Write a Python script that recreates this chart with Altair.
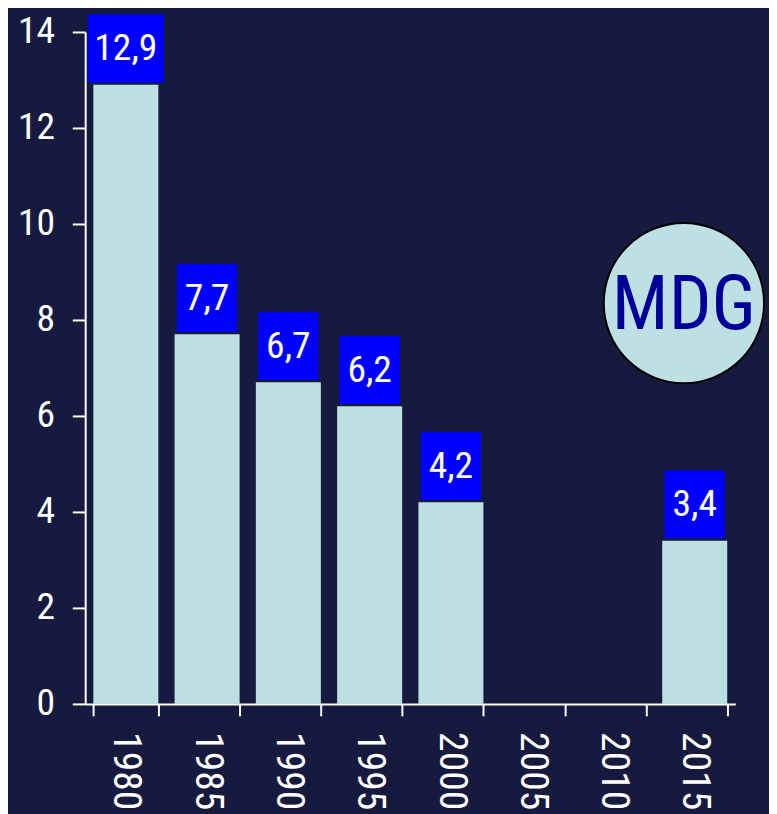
import altair as alt
import pandas as pd

years = ["1980", "1985", "1990", "1995", "2000", "2005", "2010", "2015"]
values = [12.9, 7.7, 6.7, 6.2, 4.2, None, None, 3.4]
labels = ["12,9", "7,7", "6,7", "6,2", "4,2", "", "", "3,4"]
y_ticks = [0, 2, 4, 6, 8, 10, 12, 14]
badge_text = ["MDG"]

FONT = "Roboto Condensed, Roboto, sans-serif"

df = pd.DataFrame({"year": years, "value": values, "label": labels})
df = df.dropna(subset=["value"])

x_scale = alt.Scale(domain=years, paddingInner=0.2, paddingOuter=0.1)
x_enc = alt.X(
    "year:N",
    scale=x_scale,
    axis=alt.Axis(
        title=None, labelAngle=90, labelAlign="left", labelBaseline="middle",
        labelColor="white", labelFont=FONT, labelFontSize=40, labelPadding=16,
        tickSize=12, tickColor="white", tickWidth=2, tickBand="extent",
        domainColor="white", domainWidth=2, grid=False,
    ),
)
y_scale = alt.Scale(domain=[0, 14], nice=False)

base = alt.Chart(df)

bars = base.mark_bar(color="#bcdfe2").encode(
    x=x_enc,
    y=alt.Y(
        "value:Q", scale=y_scale,
        axis=alt.Axis(
            title=None, values=y_ticks, labelColor="white", labelFont=FONT,
            labelFontSize=38, labelPadding=18, tickSize=13, tickColor="white",
            tickWidth=2, domainColor="white", domainWidth=2, grid=False,
        ),
    ),
)

boxes = base.transform_calculate(
    lo="datum.value + 0.05",
    hi="datum.value + 1.47",
    boxw="13 + 16 * length(datum.label)",
).mark_bar(color="#0000ff").encode(
    x=alt.X("year:N", scale=x_scale),
    y=alt.Y("lo:Q", scale=y_scale),
    y2="hi:Q",
    size=alt.Size("boxw:Q", scale=None, legend=None),
)

texts = base.transform_calculate(
    mid="datum.value + 0.76",
).mark_text(
    color="white", font=FONT, fontSize=38, align="center", baseline="middle", dy=1,
).encode(
    x=alt.X("year:N", scale=x_scale),
    y=alt.Y("mid:Q", scale=y_scale),
    text="label:N",
)

badge_df = pd.DataFrame({"t": badge_text})
badge_circle = alt.Chart(badge_df).mark_point(
    shape="circle", filled=True, fill="#bde0e3", stroke="black", strokeWidth=2,
    opacity=1, size=162 * 162,
).encode(x=alt.value(605), y=alt.value(274))

badge_label = alt.Chart(badge_df).mark_text(
    color="#000099", font=FONT, fontSize=76, align="center", baseline="middle", dy=3,
).encode(x=alt.value(605), y=alt.value(274), text="t:N")

chart = alt.layer(bars, boxes, texts, badge_circle, badge_label).properties(
    width=657, height=679,
    autosize=alt.AutoSizeParams(type="none"),
    padding={"left": 78, "top": 20, "right": 34, "bottom": 107},
    background="#161a3e",
).configure_view(stroke=None)

chart.save("out.html", embed_options={"renderer": "svg", "actions": False})
